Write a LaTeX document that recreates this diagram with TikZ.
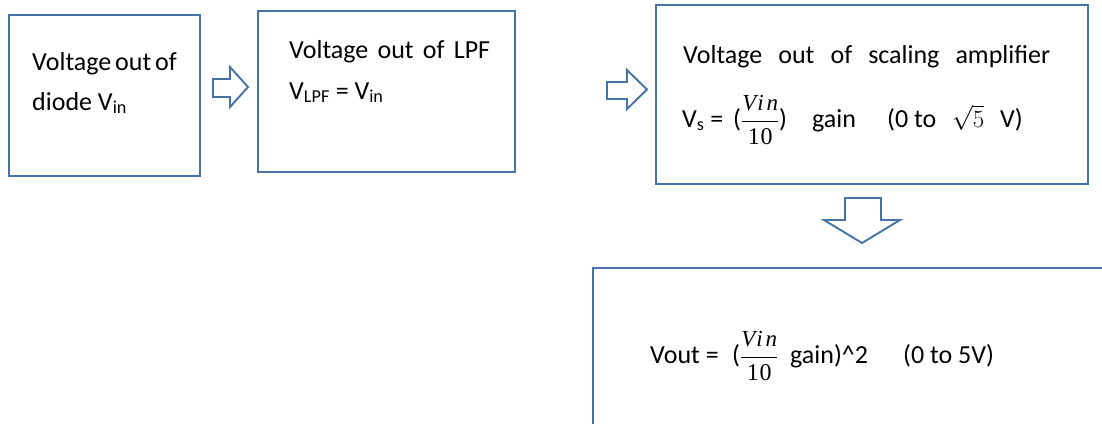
\documentclass[tikz,border=0pt]{standalone}
\usepackage{fontspec}
\setmainfont{Carlito}
\newfontfamily\fracfont[LetterSpace=12]{Liberation Serif}
\newfontfamily\denfont[LetterSpace=3]{Liberation Serif}
\definecolor{edge}{RGB}{70,115,165}
\newcommand{\fr}{$\displaystyle\frac{\mbox{\fracfont\fontsize{23}{23}\selectfont\itshape Vin}}{\mbox{\denfont\fontsize{24}{24}\selectfont 10}}$}
\begin{document}
\begin{tikzpicture}[x=1pt,y=-1pt,
  box/.style={draw=edge,line width=1.9pt,fill=white,anchor=north west,inner sep=0pt},
  txt/.style={anchor=base west,inner sep=0pt,font=\fontsize{26}{40}\selectfont},
  blockarrow/.style={draw=edge,line width=1.9pt,fill=white,line join=miter}]
\useasboundingbox (0,0) rectangle (1102,423);
\clip (0,0) rectangle (1102,423);
\fill[white] (0,0) rectangle (1102,423);
% boxes
\node[box,minimum width=191pt,minimum height=161pt] (b1) at (8,14) {};
\node[box,minimum width=257pt,minimum height=161pt] (b2) at (257,10) {};
\node[box,minimum width=432pt,minimum height=179pt] (b3) at (655,4) {};
\node[box,minimum width=520pt,minimum height=170pt] (b4) at (592,267) {};
% texts
\node[txt] (t1a) at (32,70) {\makebox[144pt][s]{Voltage out of}};
\node[txt] (t1b) at (32,110) {diode V\textsubscript{in}};
\node[txt] (t2a) at (289,58) {\makebox[201pt][s]{Voltage out of LPF}};
\node[txt] (t2b) at (289,99) {V\textsubscript{LPF} = V\textsubscript{in}};
\node[txt] (t3a) at (683,63) {\makebox[367pt][s]{Voltage out of scaling amplifier}};
\node[txt] (t3b) at (682,127) {\makebox[51pt][l]{V\textsubscript{s} =}\makebox[79pt][l]{(\fr)}\makebox[75pt][l]{gain}\makebox[65pt][l]{(0 to}\makebox[48pt][l]{$\sqrt{5}$}V)};
\node[txt] (t4) at (650,363) {\makebox[82pt][l]{Vout =}\makebox[58pt][l]{(\fr}\makebox[113pt][l]{gain)\^{}2}(0 to 5V)};
% block arrows
\draw[blockarrow] (213,79) -- (230,79) -- (230,67) -- (248,87) -- (230,107) -- (230,97) -- (213,97) -- cycle;
\draw[blockarrow] (607,82) -- (627,82) -- (627,70) -- (647,89.5) -- (627,109) -- (627,99) -- (607,99) -- cycle;
\draw[blockarrow] (845,198) -- (881,198) -- (881,220) -- (900,220) -- (862,243) -- (824,220) -- (845,220) -- cycle;
\end{tikzpicture}
\end{document}
